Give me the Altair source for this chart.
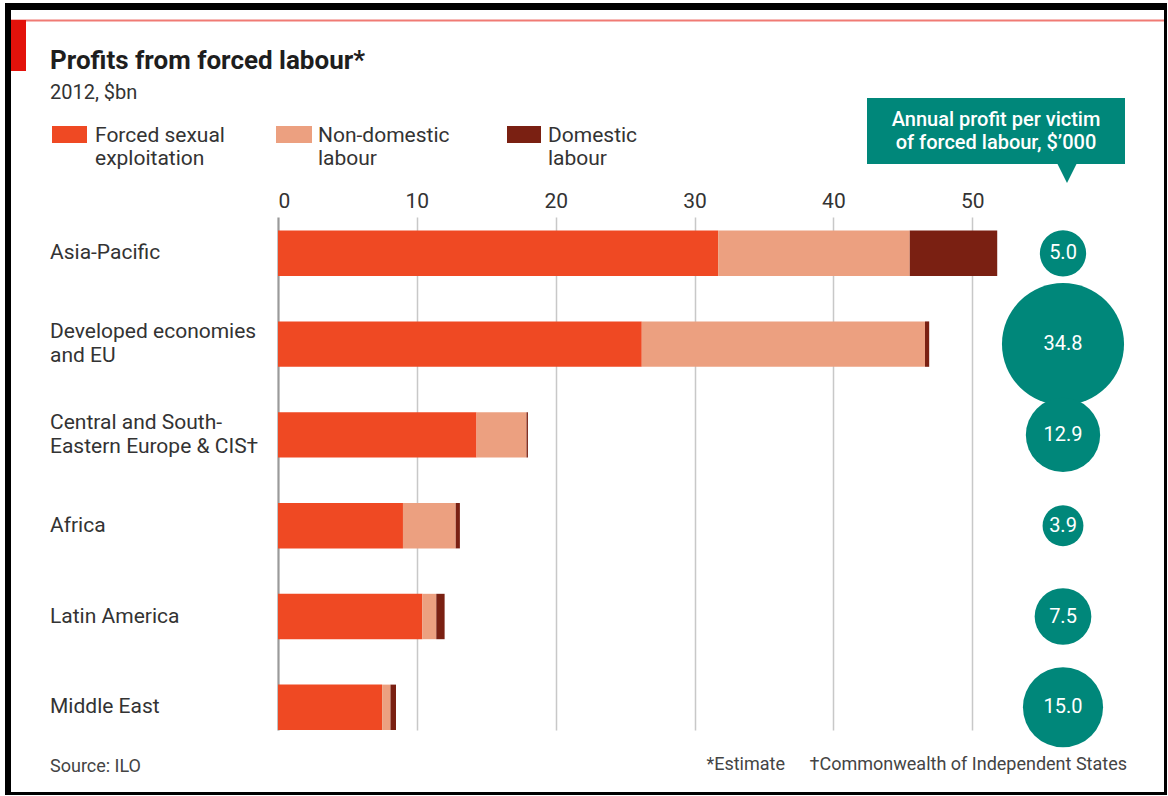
import altair as alt
import pandas as pd

# ---------------- data ----------------
regions = [
    "Asia-Pacific",
    "Developed economies and EU",
    "Central and South-Eastern Europe & CIS",
    "Africa",
    "Latin America",
    "Middle East",
]
region_lines = [
    ["Asia-Pacific"],
    ["Developed economies", "and EU"],
    ["Central and South-", "Eastern Europe & CIS\u2020"],
    ["Africa"],
    ["Latin America"],
    ["Middle East"],
]
categories = ["Forced sexual exploitation", "Non-domestic labour", "Domestic labour"]
legend_lines = [["Forced sexual", "exploitation"], ["Non-domestic", "labour"], ["Domestic", "labour"]]
sexual = [31.7, 26.2, 14.3, 9.0, 10.4, 7.5]
non_domestic = [13.8, 20.4, 3.6, 3.8, 1.0, 0.6]
domestic = [6.3, 0.3, 0.1, 0.3, 0.6, 0.4]
profit_per_victim = [5.0, 34.8, 12.9, 3.9, 7.5, 15.0]
x_ticks = [0, 10, 20, 30, 40, 50]

# ---------------- style ----------------
FONT = "Roboto"
COLORS = ["#ef4923", "#eca080", "#7a2012"]
TEAL = "#00877a"
TEXT = "#333333"
W, H = 722, 513           # plot area
OX, OY = 278, 217          # plot origin in the page
TOTAL_W, TOTAL_H = 1168, 796


def px(x):
    return x - OX


def py(y):
    return y - OY


one = pd.DataFrame({"k": [0]})

# ---------------- tables ----------------
bar_rows = []
for i, r in enumerate(regions):
    for j, vals in enumerate([sexual, non_domestic, domestic]):
        bar_rows.append({"region": r, "category": categories[j], "value": vals[i], "order": j})
bars_df = pd.DataFrame(bar_rows)
circ_df = pd.DataFrame({"region": regions, "profit": profit_per_victim})
lab_df = [{"region": r, "lines": l, "n": len(l)} for r, l in zip(regions, region_lines)]

y_enc = alt.Y(
    "region:N",
    scale=alt.Scale(domain=regions, paddingInner=0.5, paddingOuter=0.075, align=1),
    axis=None,
)

layers = []


def rect(x1, y1, x2, y2, color):
    return alt.Chart(one).mark_rect(color=color).encode(
        x=alt.value(px(x1)), x2=alt.value(px(x2)), y=alt.value(py(y1)), y2=alt.value(py(y2))
    )


def text(x, y, t, **kw):
    return alt.Chart(one).mark_text(text=t, font=FONT, **kw).encode(
        x=alt.value(px(x)), y=alt.value(py(y))
    )


# frame
layers += [
    rect(5, 3, 1167, 10, "#000000"),
    rect(5, 3, 11, 795, "#000000"),
    rect(1164, 3, 1167, 795, "#000000"),
    rect(5, 792, 1167, 795, "#000000"),
    rect(11, 19.5, 1164, 21.5, "#f07a74"),
    rect(11, 20, 26, 71, "#e3120b"),
]

# title
layers += [
    text(50, 69, "Profits from forced labour*", fontSize=26, fontWeight="bold",
         align="left", baseline="alphabetic", color="#1e1e1e"),
    text(50, 99, "2012, $bn", fontSize=20, align="left", baseline="alphabetic", color=TEXT),
]

# legend
sw_x = [(52, 87), (276, 312), (507, 541)]
tx_x = [95, 318, 548]
for k in range(3):
    layers.append(rect(sw_x[k][0], 126, sw_x[k][1], 143, COLORS[k]))
    layers.append(text(tx_x[k], 136, legend_lines[k], fontSize=21, lineHeight=23,
                       align="left", baseline="middle", color=TEXT))

# callout
layers += [
    rect(867, 98, 1125, 164, TEAL),
    alt.Chart(one).mark_point(shape="M-1,-1L1,-1L0,1Z", size=400, filled=True,
                              opacity=1, color=TEAL, strokeWidth=0).encode(
        x=alt.value(px(1067)), y=alt.value(py(173))),
    text(996, 120, ["Annual profit per victim", "of forced labour, $\u2019000"], fontSize=20,
         fontWeight=500, lineHeight=23, align="center", baseline="middle", color="white"),
]

# bars
bars = alt.Chart(bars_df).mark_bar().encode(
    x=alt.X(
        "value:Q",
        stack="zero",
        scale=alt.Scale(domain=[0, 52], nice=False, zero=True),
        axis=alt.Axis(
            orient="top", values=x_ticks, grid=True, domain=False, ticks=False,
            labelFontSize=21, labelPadding=6, labelColor=TEXT, labelFont=FONT, title=None,
            gridColor={"condition": {"test": "datum.value === 0", "value": "#9a9a9a"}, "value": "#c8c8c8"},
            gridWidth={"condition": {"test": "datum.value === 0", "value": 2.2}, "value": 1.5},
        ),
    ),
    y=y_enc,
    color=alt.Color("category:N", scale=alt.Scale(domain=categories, range=COLORS), legend=None),
    order=alt.Order("order:Q"),
)
layers.append(bars)

# region labels (one-line and two-line, two-line shifted up by half a line)
lab_base = alt.Chart(alt.Data(values=lab_df))
for n, dy in [(1, 0), (2, -12)]:
    layers.append(
        lab_base.transform_filter(f"datum.n == {n}").mark_text(
            font=FONT, fontSize=21, lineHeight=24, align="left", baseline="middle",
            color=TEXT, dy=dy
        ).encode(y=y_enc, x=alt.value(px(50)), text=alt.Text("lines:N"))
    )

# circles (Vega symbol size = (diameter)^2)
circles = alt.Chart(circ_df).mark_circle(color=TEAL, opacity=1).encode(
    y=y_enc,
    x=alt.value(px(1063)),
    size=alt.Size("profit:Q", scale=alt.Scale(domain=[0, 34.8], range=[0, 14900], nice=False),
                  legend=None),
)
circ_text = alt.Chart(circ_df).mark_text(
    font=FONT, fontSize=20, color="white", align="center", baseline="middle"
).encode(y=y_enc, x=alt.value(px(1063)), text=alt.Text("profit:Q", format=".1f"))
layers += [circles, circ_text]

# footer
layers += [
    text(50, 767, "Source: ILO", fontSize=18, align="left", baseline="middle", color="#444444"),
    text(785, 765, "*Estimate", fontSize=18, align="right", baseline="middle", color="#444444"),
    text(1127, 765, "\u2020Commonwealth of Independent States", fontSize=18, align="right",
         baseline="middle", color="#444444"),
]

chart = alt.layer(*layers).properties(
    width=W,
    height=H,
    padding={"left": OX, "top": OY, "right": TOTAL_W - OX - W, "bottom": TOTAL_H - OY - H},
    autosize=alt.AutoSizeParams(type="none"),
    background="white",
).configure(font=FONT).configure_view(stroke=None, strokeWidth=0)

chart.save("out.html", embed_options={"renderer": "svg", "actions": False})
